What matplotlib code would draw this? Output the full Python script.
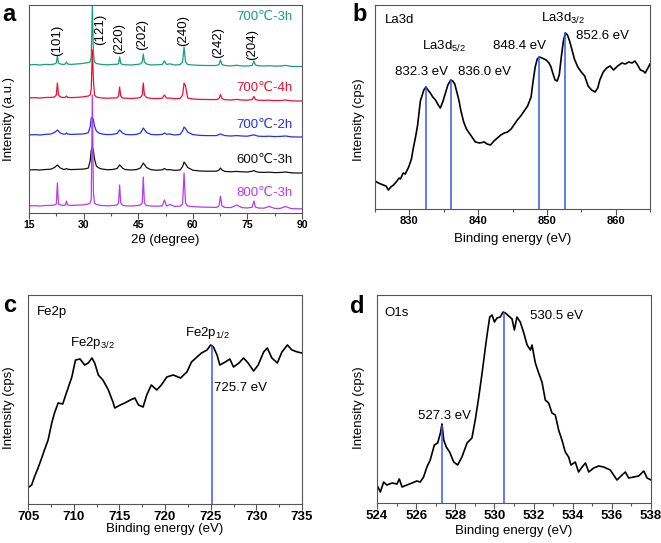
import numpy as np
import matplotlib
matplotlib.use('Agg')
import matplotlib.pyplot as plt
from matplotlib.ticker import MultipleLocator

plt.rcParams['font.family'] = ['Liberation Sans', 'DejaVu Sans']
plt.rcParams['mathtext.fontset'] = 'custom'
plt.rcParams['mathtext.rm'] = 'Liberation Sans'
plt.rcParams['mathtext.it'] = 'Liberation Sans:italic'

# --- XRD (panel a) ---
two_theta = [15, 16.5, 18, 19.5, 21, 22.0, 22.5, 22.8, 23.1, 23.6,
             24.5, 25.0, 25.3, 25.6, 26.5, 28, 29.5, 30.5, 31.3, 31.8,
             32.1, 32.4, 32.7, 33.0, 33.5, 34.2, 35, 36.5, 38, 39.2,
             39.6, 39.9, 40.2, 40.7, 41.5, 43, 44.5, 45.6, 46.1, 46.4,
             46.7, 47.3, 48.5, 50, 51.6, 52.2, 52.8, 53.7, 55, 56.5,
             57.2, 57.6, 58.0, 58.6, 60, 62, 64, 66.5, 67.2, 67.6,
             68.0, 68.8, 70.5, 72, 73.5, 75, 76.3, 76.8, 77.2, 78,
             79.5, 81, 82.5, 84, 85.5, 87, 88.5, 90]

xrd_700_3h = [148, 148.5, 148, 148.6, 148.4, 149, 150, 157, 150, 149,
              148.5, 149, 151, 149, 148.6, 149, 149.4, 150, 150.5, 151,
              156, 207, 160, 151, 149.5, 149, 148.5, 148.2, 148.6, 148.7,
              149.5, 156, 149.5, 148.5, 148.2, 148, 148.5, 149, 151, 159,
              151, 149, 148, 148.2, 148.5, 152, 148.5, 149.2, 148, 148.4,
              151, 166, 151, 148.5, 148, 147.6, 147.5, 147.5, 148.5, 153,
              148.5, 147.5, 147, 147.8, 147, 147, 147.5, 152, 148, 147.2,
              147, 147.3, 146.9, 147, 147.6, 146.6, 146.5, 146.5]

xrd_700_4h = [115, 115.3, 115, 115.5, 115.6, 116, 118, 130, 118, 116,
              115.5, 115.7, 117, 115.6, 115.4, 115.6, 116, 116.5, 117, 118,
              124, 163, 132, 118, 116, 115.5, 115, 114.8, 115, 115.2,
              117, 126, 117, 115, 114.8, 114.6, 114.8, 115.5, 118, 130,
              118, 115.5, 114.6, 114.5, 114.8, 118, 114.8, 115, 114.3, 114.5,
              118, 130, 127, 115, 114, 113.6, 113.5, 113.4, 114.5, 118.5,
              114.5, 113.3, 113, 113.6, 113, 112.8, 113.5, 116.5, 113.5, 112.8,
              112.6, 112.8, 112.4, 112.5, 113, 112.2, 112, 112]

xrd_700_2h = [78, 78.4, 78, 78.6, 79, 80.5, 82, 83, 82, 80,
              78.8, 79, 80, 79, 78.6, 78.8, 79, 79.4, 80.5, 86,
              95, 96, 93, 87, 82, 80, 79, 78.4, 78.6, 79.5,
              81.5, 83, 82, 80, 78.6, 78.2, 78.6, 80, 83, 85,
              83.5, 80.5, 78.6, 78.2, 78.6, 80, 78.8, 79, 78, 78.6,
              82, 86, 84.5, 81, 78.4, 77.6, 77.4, 77.4, 78.5, 79,
              78.4, 77.4, 77, 77.4, 77, 76.8, 77.8, 78.2, 77.6, 76.8,
              76.6, 76.8, 76.4, 76.6, 77, 76.2, 76, 76]

xrd_600_3h = [43, 43.3, 43, 43.5, 43.8, 45.5, 47, 48, 47, 45,
              43.6, 43.8, 44.5, 43.8, 43.4, 43.6, 43.8, 44.2, 45, 52,
              63, 66, 62, 54, 47, 45, 44, 43.3, 43.5, 44.5,
              46.5, 48, 47, 44.8, 43.4, 43, 43.4, 45, 48, 50,
              48.5, 45.5, 43.3, 42.8, 43.2, 44.5, 43.2, 43.4, 42.6, 43,
              46.5, 51, 49, 45.5, 42.8, 42, 41.8, 41.8, 43, 45,
              43, 41.6, 41.2, 41.6, 41.2, 41, 41.8, 42.5, 41.6, 40.8,
              40.6, 40.8, 40.4, 40.5, 41, 40.2, 40, 40]

xrd_800_3h = [7, 7.3, 7, 7.5, 7.6, 8, 9, 30, 9, 8,
              7.6, 8, 12, 8, 7.5, 7.8, 8, 8.5, 9, 10,
              14, 118, 20, 10, 8.5, 8, 7.5, 7.2, 7.5, 8,
              10, 28, 10, 7.8, 7.2, 7, 7.3, 8, 10, 36,
              10, 7.5, 7, 6.8, 7, 13, 7, 8.5, 6.6, 6.8,
              9, 40, 10, 7, 6.4, 6, 5.8, 5.6, 7, 17,
              7, 5.6, 5.4, 8, 5.4, 5, 5.8, 12, 6, 5,
              4.8, 6.5, 4.6, 4.6, 6.5, 4.4, 4.2, 4.2]

xrd_labels = ['700\u2103-3h', '700\u2103-4h', '700\u2103-2h', '600\u2103-3h', '800\u2103-3h']
xrd_colors = ['#16a07c', '#ee1030', '#2630ee', '#111111', '#b33cf0']
label_y = [196, 125, 88, 53, 20]

hkl = ['(101)', '(121)', '(220)', '(202)', '(240)', '(242)', '(204)']
hkl_x = [22.8, 34.5, 39.7, 46.2, 57.3, 67.0, 76.2]
hkl_y = [173, 184, 174, 178, 183, 171, 169]

# --- La3d (panel b) ---
be_la = [825.0, 825.5, 826.2, 826.6, 826.95, 827.3, 827.7, 828.2, 828.5, 828.7,
         829.1, 829.4, 829.9, 830.3, 830.6, 830.9, 831.2, 831.6, 832.1, 832.4,
         832.7, 833.05, 833.4, 833.8, 834.2, 834.5, 834.9, 835.25, 835.6, 836.0,
         836.3, 836.6, 836.9, 837.2, 837.5, 837.9, 838.3, 838.7, 839.1, 839.6,
         840.2, 840.9, 841.3, 841.8, 842.3, 842.8, 843.3, 843.8, 844.3, 844.8,
         845.2, 845.7, 846.2, 846.7, 847.2, 847.7, 848.0, 848.3, 848.6, 848.9,
         849.3, 849.9, 850.3, 850.6, 850.9, 851.2, 851.5, 851.8, 852.1, 852.4,
         852.7, 853.0, 853.3, 853.7, 854.0, 854.5, 855.0, 855.5, 856.0, 856.5,
         857.0, 857.4, 857.7, 858.2, 858.7, 859.2, 859.7, 860.3, 860.9, 861.4,
         861.9, 862.4, 862.8, 863.2, 863.6, 864.0, 864.3, 864.7, 865.0]
int_la = [28, 26, 24, 23, 19, 22, 24, 28, 31, 30,
          36, 35, 42, 50, 62, 72, 84, 108, 119, 122,
          119, 116, 112, 109, 104, 101, 108, 116, 124, 129,
          128, 125, 117, 109, 98, 87, 80, 76, 72, 67,
          66, 67, 65, 64, 68, 71, 74, 76, 77, 80,
          84, 89, 93, 98, 103, 112, 128, 142, 150, 152,
          151, 149, 146, 142, 135, 129, 128, 134, 152, 168,
          176, 174, 168, 158, 150, 142, 137, 133, 123, 119,
          117, 121, 129, 137, 141, 143, 139, 143, 146, 145,
          147, 146, 148, 144, 139, 138, 136, 141, 145]
la_peaks = [832.4, 836.1, 848.9, 852.7]

# --- Fe2p (panel c) ---
be_fe = [705.1, 705.4, 705.7, 706.1, 706.5, 706.8, 707.2, 707.6, 707.9, 708.3,
         708.8, 709.2, 709.8, 710.2, 710.7, 711.2, 711.6, 712.0, 712.3, 712.7,
         713.2, 713.8, 714.3, 714.5, 715.1, 715.6, 716.2, 716.7, 717.1, 717.6,
         718.0, 718.5, 719.1, 719.6, 720.2, 720.9, 721.7, 722.4, 722.9, 723.5,
         724.0, 724.6, 725.0, 725.3, 725.7, 726.0, 726.6, 727.1, 727.5, 728.1,
         728.6, 729.1, 729.7, 730.2, 730.8, 731.2, 731.7, 732.3, 732.8, 733.4,
         733.9, 734.5, 735.0]
int_fe = [17, 19, 27, 36, 46, 54, 64, 81, 91, 101,
          100, 111, 127, 144, 145, 139, 141, 146, 141, 129,
          124, 114, 102, 96, 99, 101, 104, 106, 99, 97,
          109, 119, 114, 119, 127, 129, 126, 132, 142, 147,
          151, 154, 159, 157, 149, 139, 142, 145, 137, 141,
          146, 141, 133, 139, 152, 156, 146, 141, 152, 159,
          154, 152, 151]
fe_peaks = [725.2]

# --- O1s (panel d) ---
be_o = [524.05, 524.17, 524.34, 524.5, 524.77, 525.02, 525.14, 525.28, 525.53, 525.79,
        526.04, 526.21, 526.38, 526.55, 526.72, 526.93, 527.1, 527.24, 527.32, 527.41,
        527.54, 527.71, 527.92, 528.12, 528.34, 528.6, 528.85, 529.02, 529.2, 529.37,
        529.54, 529.66, 529.76, 529.88, 530.0, 530.13, 530.3, 530.44, 530.56, 530.73,
        530.9, 531.02, 531.15, 531.32, 531.5, 531.67, 531.84, 531.92, 532.09, 532.26,
        532.43, 532.6, 532.77, 532.94, 533.11, 533.28, 533.45, 533.62, 533.79, 533.91,
        534.13, 534.3, 534.48, 534.65, 534.82, 535.07, 535.33, 535.58, 535.92, 536.26,
        536.52, 536.69, 536.86, 537.12, 537.37, 537.63, 537.8, 538.0]
int_o = [16, 11, 21, 18, 20, 19, 24, 16, 18, 20,
         22, 21, 26, 36, 43, 58, 60, 70, 79, 63,
         56, 51, 41, 38, 46, 60, 65, 83, 106, 130,
         156, 173, 186, 188, 181, 185, 186, 191, 190, 187,
         184, 173, 186, 181, 170, 158, 153, 158, 140, 130,
         121, 103, 100, 90, 88, 73, 63, 51, 46, 38,
         41, 31, 36, 40, 31, 35, 37, 36, 33, 23,
         28, 31, 25, 26, 27, 32, 25, 23]
o_peaks = [527.3, 530.5]

W, H = 661, 543
BLUE = '#3a55f5'
FS = 9.5

fig = plt.figure(figsize=(W / 100, H / 100), dpi=100)


def make_axes(left, top, right, bottom):
    return fig.add_axes([left / W, 1 - bottom / H, (right - left) / W, (bottom - top) / H])


def style(ax, xlim, ylim, major, minor, tick_fs, xlabel, ylabel, xlab_y, ylab_x, ylab_y):
    ax.set_xlim(*xlim)
    ax.set_ylim(*ylim)
    ax.xaxis.set_major_locator(MultipleLocator(major))
    ax.xaxis.set_minor_locator(MultipleLocator(minor))
    ax.tick_params(axis='x', which='major', direction='out', length=4, width=0.8,
                   color='#555555', labelsize=tick_fs, pad=1.2)
    ax.tick_params(axis='x', which='minor', direction='out', length=2.5, width=0.8,
                   color='#555555')
    ax.tick_params(axis='y', left=False, labelleft=False)
    for lab in ax.get_xticklabels():
        lab.set_fontweight('bold')
    for sp in ax.spines.values():
        sp.set_color('#555555')
        sp.set_linewidth(0.8)
    ax.set_xlabel(xlabel, fontsize=FS)
    ax.xaxis.set_label_coords(0.5, xlab_y)
    ax.set_ylabel(ylabel, fontsize=FS)
    ax.yaxis.set_label_coords(ylab_x, ylab_y)


# panel a
ax_a = make_axes(29, 5, 302, 213)
series = [xrd_700_3h, xrd_700_4h, xrd_700_2h, xrd_600_3h, xrd_800_3h]
for ys, col in zip(series, xrd_colors):
    ax_a.plot(two_theta, ys, color=col, lw=0.9)
for lab, col, y in zip(xrd_labels, xrd_colors, label_y):
    ax_a.text(87.5, y, lab, color=col, fontsize=FS, ha='right', va='center')
for lab, x, y in zip(hkl, hkl_x, hkl_y):
    ax_a.text(x, y, lab, fontsize=FS, rotation=90, ha='center', va='center')
style(ax_a, (15, 90), (0, 208), 15, 7.5, 7.5, '2\u03b8 (degree)', 'Intensity (a.u.)',
      -0.10, -0.051, 0.45)

# panel b
ax_b = make_axes(375, 5, 650, 209)
ax_b.plot(be_la, int_la, color='black', lw=1.2)
for p in la_peaks:
    ax_b.plot([p, p], [0, np.interp(p, be_la, int_la)], color=BLUE, lw=1.1)
ax_b.text(826.5, 186, 'La3d', fontsize=FS)
ax_b.text(831.9, 159, r'La3d$_{5/2}$', fontsize=FS)
ax_b.text(827.9, 134, '832.3 eV', fontsize=FS)
ax_b.text(837.0, 134, '836.0 eV', fontsize=FS)
ax_b.text(842.1, 160, '848.4 eV', fontsize=FS)
ax_b.text(849.2, 187, r'La3d$_{3/2}$', fontsize=FS)
ax_b.text(854.3, 170, '852.6 eV', fontsize=FS)
style(ax_b, (825, 865), (0, 204), 10, 5, 8, 'Binding energy (eV)', 'Intensity (cps)',
      -0.12, -0.036, 0.44)

# panel c
ax_c = make_axes(28, 295, 302, 504)
ax_c.plot(be_fe, int_fe, color='black', lw=1.2)
for p in fe_peaks:
    ax_c.plot([p, p], [0, np.interp(p, be_fe, int_fe)], color=BLUE, lw=1.1)
ax_c.text(706.0, 189, 'Fe2p', fontsize=FS)
ax_c.text(709.6, 158, r'Fe2p$_{3/2}$', fontsize=FS)
ax_c.text(722.2, 168, r'Fe2p$_{1/2}$', fontsize=FS)
ax_c.text(725.4, 113, '725.7 eV', fontsize=FS)
style(ax_c, (705, 735), (0, 209), 5, 2.5, 9.5, 'Binding energy (eV)', 'Intensity (cps)',
      -0.09, -0.047, 0.46)

# panel d
ax_d = make_axes(377, 295, 651, 503)
ax_d.plot(be_o, int_o, color='black', lw=1.2)
for p in o_peaks:
    ax_d.plot([p, p], [0, np.interp(p, be_o, int_o)], color=BLUE, lw=1.1)
ax_d.text(524.4, 187, 'O1s', fontsize=FS)
ax_d.text(526.1, 84, '527.3 eV', fontsize=FS)
ax_d.text(531.8, 184, '530.5 eV', fontsize=FS)
style(ax_d, (524, 538), (0, 208), 2, 1, 9.5, 'Binding energy (eV)', 'Intensity (cps)',
      -0.105, -0.044, 0.46)

for letter, x, y in [('a', 2, 21), ('b', 352, 21), ('c', 3, 312), ('d', 350, 313)]:
    fig.text(x / W, 1 - y / H, letter, fontsize=17, fontweight='bold', va='baseline')

fig.savefig('out.png', dpi=100)
